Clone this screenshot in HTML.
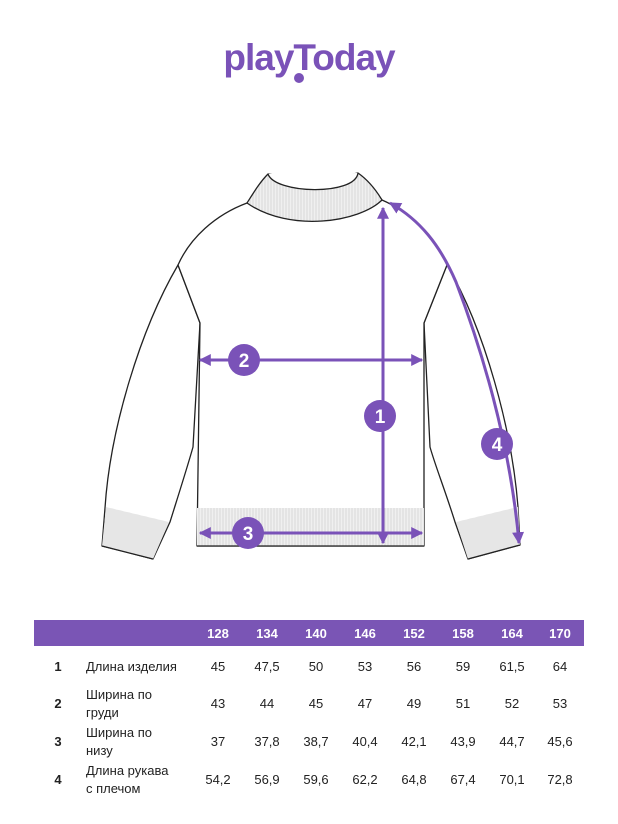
<!DOCTYPE html>
<html><head><meta charset="utf-8"><style>
html,body{margin:0;padding:0;background:#fff;}
svg{display:block;}
text{font-family:"Liberation Sans","DejaVu Sans",sans-serif;}
</style></head><body>
<svg width="618" height="824" viewBox="0 0 618 824" xmlns="http://www.w3.org/2000/svg">
<defs>
<pattern id="rib" width="3" height="4" patternUnits="userSpaceOnUse"><rect width="3" height="4" fill="#f0f0f0"/><line x1="1" y1="0" x2="1" y2="4" stroke="#d2d2d2" stroke-width="0.8"/></pattern>
<pattern id="cuff" width="4" height="2" patternUnits="userSpaceOnUse"><rect width="4" height="2" fill="#ececec"/><line x1="0" y1="1" x2="4" y2="1" stroke="#d8d8d8" stroke-width="0.6"/></pattern>
<marker id="ah" viewBox="0 0 10 10" refX="9" refY="5" markerWidth="4" markerHeight="4" orient="auto-start-reverse"><path d="M0,0 L10,5 L0,10 z" fill="#7a52b8"/></marker>
</defs>
<!-- logo -->
<text x="309" y="70" text-anchor="middle" font-size="37" font-weight="bold" fill="#7a52b8" letter-spacing="-1">playToday</text>
<circle cx="299" cy="78" r="5" fill="#7a52b8"/>

<!-- sweater -->
<g stroke="#222" stroke-width="1.3" fill="#fff" stroke-linejoin="round">
<!-- sleeves -->
<path d="M178,265 C140,330 110,430 105,508 L102,546 L153,559 L170,522 C180,490 188,465 193,447 L200,323 Z"/>
<path d="M447,265 C485,330 512,430 518,507 L520,545 L468,559 L455,522 C445,490 435,465 430,447 L424,323 Z"/>
<!-- cuffs -->
<path d="M106,507 L169,522 L153,559 L102,546 Z" fill="url(#cuff)" stroke="none"/>
<path d="M456,522 L518,507 L520,545 L468,559 Z" fill="url(#cuff)" stroke="none"/>
<path d="M102,546 L153,559 M468,559 L520,545" fill="none"/>
<!-- body -->
<path d="M247,203 C215,215 190,238 178,265 L200,323 L197,546 L424,546 L424,323 L447,265 C435,238 410,212 382,200 Z"/>
<rect x="197" y="508" width="227" height="38" fill="url(#rib)" stroke="none"/>
<path d="M197,546 L424,546" fill="none"/>
<!-- collar -->
<path d="M268,174 C290,178 335,178 358,173 C368,180 376,190 382,200 C360,222 290,233 247,203 C254,192 260,182 268,174 Z" fill="url(#rib)"/>
<path d="M268,174 C275,194 355,196 358,173" fill="#fff"/>
</g>

<!-- measurements -->
<g stroke="#7a52b8" stroke-width="3" fill="none">
<line x1="383" y1="208" x2="383" y2="543" marker-start="url(#ah)" marker-end="url(#ah)"/>
<line x1="200" y1="360" x2="422" y2="360" marker-start="url(#ah)" marker-end="url(#ah)"/>
<line x1="200" y1="533" x2="422" y2="533" marker-start="url(#ah)" marker-end="url(#ah)"/>
<path d="M390,203 C420,220 440,245 456,282 C480,345 510,440 519,543" marker-start="url(#ah)" marker-end="url(#ah)"/>
</g>
<g fill="#7a52b8">
<circle cx="380" cy="416" r="16"/>
<circle cx="244" cy="360" r="16"/>
<circle cx="248" cy="533" r="16"/>
<circle cx="497" cy="444" r="16"/>
</g>
<g fill="#fff" font-size="19" font-weight="bold" text-anchor="middle">
<text x="380" y="423">1</text>
<text x="244" y="367">2</text>
<text x="248" y="540">3</text>
<text x="497" y="451">4</text>
</g>

<!-- table -->
<rect x="34" y="620" width="550" height="26" fill="#7a55b5"/>
<g fill="#fff" font-size="13" font-weight="bold" text-anchor="middle">
<text x="218" y="638">128</text><text x="267" y="638">134</text><text x="316" y="638">140</text><text x="365" y="638">146</text><text x="414" y="638">152</text><text x="463" y="638">158</text><text x="512" y="638">164</text><text x="560" y="638">170</text>
</g>
<g fill="#222" font-size="13" font-weight="bold" text-anchor="middle">
<text x="58" y="671">1</text><text x="58" y="708">2</text><text x="58" y="746">3</text><text x="58" y="784">4</text>
</g>
<g fill="#222" font-size="13">
<text x="86" y="671">Длина изделия</text>
<text x="86" y="699">Ширина по</text><text x="86" y="717">груди</text>
<text x="86" y="737">Ширина по</text><text x="86" y="755">низу</text>
<text x="86" y="775">Длина рукава</text><text x="86" y="793">с плечом</text>
</g>
<g fill="#222" font-size="13" text-anchor="middle">
<text x="218" y="671">45</text><text x="267" y="671">47,5</text><text x="316" y="671">50</text><text x="365" y="671">53</text><text x="414" y="671">56</text><text x="463" y="671">59</text><text x="512" y="671">61,5</text><text x="560" y="671">64</text>
<text x="218" y="708">43</text><text x="267" y="708">44</text><text x="316" y="708">45</text><text x="365" y="708">47</text><text x="414" y="708">49</text><text x="463" y="708">51</text><text x="512" y="708">52</text><text x="560" y="708">53</text>
<text x="218" y="746">37</text><text x="267" y="746">37,8</text><text x="316" y="746">38,7</text><text x="365" y="746">40,4</text><text x="414" y="746">42,1</text><text x="463" y="746">43,9</text><text x="512" y="746">44,7</text><text x="560" y="746">45,6</text>
<text x="218" y="784">54,2</text><text x="267" y="784">56,9</text><text x="316" y="784">59,6</text><text x="365" y="784">62,2</text><text x="414" y="784">64,8</text><text x="463" y="784">67,4</text><text x="512" y="784">70,1</text><text x="560" y="784">72,8</text>
</g>
</svg>
</body></html>
